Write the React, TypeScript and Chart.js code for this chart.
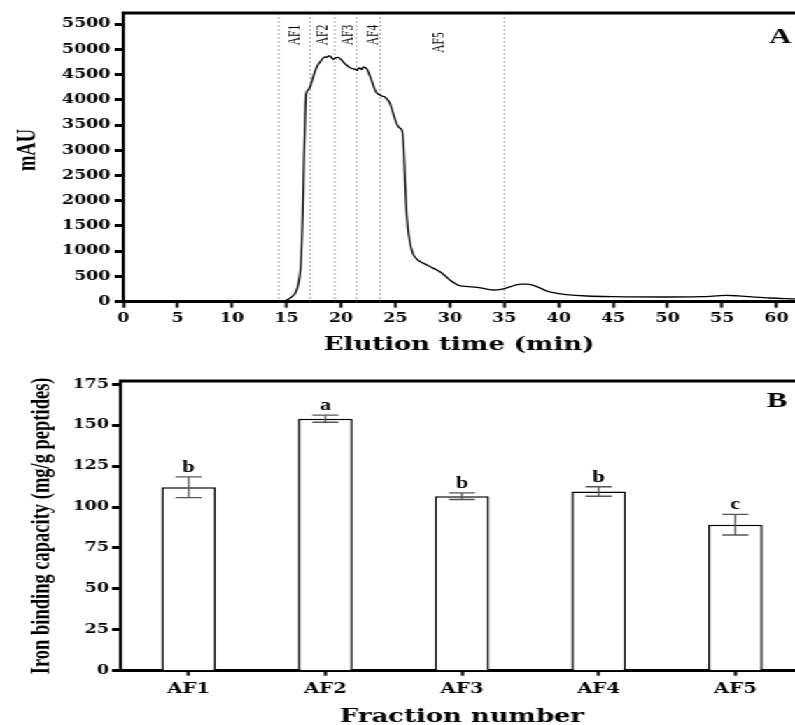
import React, { useEffect, useRef } from "react";
import { Chart, registerables } from "chart.js";
Chart.register(...registerables);

// ---- data ----
const elutionTimes = [
  0, 5, 10, 14.0, 14.5, 15.0, 15.3, 15.6, 15.8, 16.1, 16.3, 16.4, 16.5, 16.6, 16.7, 16.8,
  17.0, 17.17, 17.4, 17.6, 17.85, 18.1, 18.3, 18.5, 18.7, 18.85, 19.0, 19.15, 19.3, 19.5,
  19.75, 20.0, 20.2, 20.45, 20.7, 21.0, 21.3, 21.5, 21.6, 21.75, 21.9, 22.05, 22.2, 22.35,
  22.5, 22.8, 23.1, 23.3, 23.6, 23.8, 24.0, 24.25, 24.5, 24.8, 25.1, 25.4, 25.6, 25.74,
  25.9, 26.05, 26.3, 26.6, 27.0, 27.3, 27.8, 28.2, 28.7, 29.1, 29.6, 30.0, 30.5, 30.9,
  31.7, 32.5, 33.3, 34.0, 34.6, 35.1, 35.6, 36.1, 36.6, 37.05, 37.6, 38.3, 39.0, 39.5,
  40.0, 40.7, 42.6, 45.0, 50.0, 53.0, 54.5, 55.4, 56.5, 57.5, 59.4, 60.9, 61.7,
];
const absorbanceMAU = [
  10, 10, 10, 12, 15, 30, 67, 120, 166, 364, 693, 1162, 1816, 2806, 3600, 4114,
  4200, 4258, 4420, 4556, 4680, 4753, 4810, 4852, 4840, 4870, 4866, 4830, 4800, 4830,
  4840, 4800, 4753, 4700, 4654, 4620, 4603, 4580, 4630, 4622, 4600, 4650, 4641, 4620,
  4556, 4391, 4207, 4130, 4094, 4070, 4060, 4010, 3930, 3731, 3533, 3440, 3400, 3137,
  2345, 1683, 1222, 958, 840, 792, 740, 693, 640, 594, 510, 430, 360, 317,
  300, 285, 255, 232, 240, 265, 300, 331, 348, 350, 330, 270, 205, 180,
  160, 140, 113, 100, 93, 100, 115, 126, 115, 100, 73, 60, 55,
];
const timeTicks = [0, 5, 10, 15, 20, 25, 30, 35, 40, 45, 50, 55, 60];
const mauTicks = [0, 500, 1000, 1500, 2000, 2500, 3000, 3500, 4000, 4500, 5000, 5500];
const fractionBoundaries = [14.28, 17.2, 19.42, 21.43, 23.62, 35.0];
const fractionNames = ["AF1", "AF2", "AF3", "AF4", "AF5"];
const fractionLabelTimes = [15.85, 18.4, 20.65, 22.95, 29.0];

const ironBinding = [112.1, 154.0, 106.6, 109.5, 89.2];
const ironBindingSd = [6.3, 2.2, 2.0, 2.9, 6.3];
const significanceLetters = ["b", "a", "b", "b", "c"];
const bindingTicks = [0, 25, 50, 75, 100, 125, 150, 175];

// ---- layout (internal canvas px; the whole drawing is stretched horizontally) ----
const K = 795 / 568;
const SERIF_WIDE = "'DejaVu Serif', serif";
const SERIF = "'Liberation Serif', 'Times New Roman', serif";

const tickFont = { family: SERIF_WIDE, weight: "bold" as const, size: 12.5 };
const plainNumber = (v: any) => String(v);
const fixedTicks = (values: number[]) => (s: any) => {
  s.ticks = values.map((v) => ({ value: v }));
};

const chromPlugin = {
  id: "chromDecor",
  beforeDatasetsDraw(chart: any) {
    const { ctx, chartArea, scales } = chart;
    ctx.save();
    ctx.strokeStyle = "#8c8c8c";
    ctx.lineWidth = 0.8;
    ctx.setLineDash([2, 2]);
    for (const t of fractionBoundaries) {
      const x = scales.x.getPixelForValue(t);
      ctx.beginPath();
      ctx.moveTo(x, chartArea.top);
      ctx.lineTo(x, chartArea.bottom);
      ctx.stroke();
    }
    ctx.restore();
  },
  afterDraw(chart: any) {
    const { ctx, chartArea, scales } = chart;
    ctx.save();
    ctx.fillStyle = "#000";
    ctx.fillRect(chartArea.left - 1.1, chartArea.top - 1.5, chartArea.right - chartArea.left + 1.1, 3);
    // fraction labels
    ctx.font = `11.5px ${SERIF}`;
    ctx.textAlign = "center";
    ctx.textBaseline = "middle";
    fractionNames.forEach((name, i) => {
      const x = scales.x.getPixelForValue(fractionLabelTimes[i]);
      const y = i === 4 ? 42.5 : 35;
      ctx.save();
      ctx.translate(x, y);
      ctx.rotate(-Math.PI / 2);
      ctx.fillText(name, 0, 0);
      ctx.restore();
    });
    // panel letter
    ctx.font = `bold 22px ${SERIF}`;
    ctx.textBaseline = "alphabetic";
    ctx.fillText("A", 557.5, 43);
    // axis titles
    ctx.font = `bold 18.5px ${SERIF_WIDE}`;
    ctx.fillText("Elution time (min)", (chartArea.left + chartArea.right) / 2, 350);
    ctx.save();
    ctx.translate(20, 150);
    ctx.rotate(-Math.PI / 2);
    ctx.font = `bold 18.5px ${SERIF}`;
    ctx.textBaseline = "middle";
    ctx.fillText("mAU", 0, 0);
    ctx.restore();
    ctx.restore();
  },
};

const barPlugin = {
  id: "barDecor",
  afterDatasetsDraw(chart: any) {
    const { ctx, chartArea, scales } = chart;
    const meta = chart.getDatasetMeta(0);
    ctx.save();
    ctx.fillStyle = "#000";
    ctx.fillRect(chartArea.left - 1.1, chartArea.top - 1.5, chartArea.right - chartArea.left + 1.1, 3);
    ctx.strokeStyle = "#555";
    ctx.lineWidth = 1.3;
    meta.data.forEach((bar: any, i: number) => {
      const x = bar.x;
      const hi = scales.y.getPixelForValue(ironBinding[i] + ironBindingSd[i]);
      const lo = scales.y.getPixelForValue(ironBinding[i] - ironBindingSd[i]);
      ctx.beginPath();
      ctx.moveTo(x, hi);
      ctx.lineTo(x, lo);
      ctx.moveTo(x - 9.3, hi);
      ctx.lineTo(x + 9.3, hi);
      ctx.moveTo(x - 9.3, lo);
      ctx.lineTo(x + 9.3, lo);
      ctx.stroke();
      ctx.font = `bold 16px ${SERIF}`;
      ctx.textAlign = "center";
      ctx.textBaseline = "alphabetic";
      ctx.fillText(significanceLetters[i], x, hi - 5);
    });
    ctx.font = `bold 22px ${SERIF}`;
    ctx.textAlign = "center";
    ctx.fillText("B", 555, 47);
    ctx.font = `bold 18.5px ${SERIF_WIDE}`;
    ctx.fillText("Fraction number", (chartArea.left + chartArea.right) / 2, 361.5);
    ctx.save();
    ctx.translate(30.4, (chartArea.top + chartArea.bottom) / 2);
    ctx.rotate(-Math.PI / 2);
    ctx.font = `bold 18.5px ${SERIF}`;
    ctx.textBaseline = "middle";
    ctx.fillText("Iron binding capacity (mg/g peptides)", 0, 0);
    ctx.restore();
    ctx.restore();
  },
};

export default function App() {
  const topRef = useRef<HTMLCanvasElement>(null);
  const botRef = useRef<HTMLCanvasElement>(null);

  useEffect(() => {
    const points = elutionTimes.map((t, i) => ({ x: t, y: absorbanceMAU[i] }));
    const c1 = new Chart(topRef.current!, {
      type: "line",
      data: {
        datasets: [
          {
            data: points,
            borderColor: "#000",
            borderWidth: 1.3,
            pointRadius: 0,
            fill: false,
            cubicInterpolationMode: "monotone",
          },
        ],
      },
      options: {
        animation: false,
        responsive: false,
        devicePixelRatio: 1,
        layout: { padding: { top: 13, left: 0, right: 0, bottom: 0 } },
        plugins: { legend: { display: false }, tooltip: { enabled: false } },
        scales: {
          x: {
            type: "linear",
            min: 0,
            max: 61.7,
            afterBuildTicks: fixedTicks(timeTicks),
            afterFit: (s: any) => {
              s.height = 58.3;
              s.paddingLeft = 0;
              s.paddingRight = 0;
            },
            ticks: {
              color: "#000",
              font: tickFont,
              padding: 4,
              maxRotation: 0,
              autoSkip: false,
              callback: plainNumber,
            },
            grid: { drawOnChartArea: false, drawTicks: true, tickLength: 6, tickWidth: 2, tickColor: "#000" },
            border: { display: true, color: "#000", width: 3 },
          },
          y: {
            min: 0,
            max: 5720,
            afterBuildTicks: fixedTicks(mauTicks),
            afterFit: (s: any) => {
              s.width = 88;
              s.paddingTop = 0;
              s.paddingBottom = 0;
            },
            ticks: {
              autoSkip: false,
              color: "#000",
              font: tickFont,
              padding: 3,
              callback: plainNumber,
            },
            grid: { drawOnChartArea: false, drawTicks: true, tickLength: 6, tickWidth: 3, tickColor: "#000" },
            border: { display: true, color: "#000", width: 2.2 },
          },
        },
      },
      plugins: [chromPlugin],
    } as any);

    const c2 = new Chart(botRef.current!, {
      type: "bar",
      data: {
        labels: fractionNames,
        datasets: [
          {
            data: ironBinding,
            backgroundColor: "#fff",
            borderColor: "#000",
            borderWidth: 1.5,
            barPercentage: 0.397,
            categoryPercentage: 1,
          },
        ],
      },
      options: {
        animation: false,
        responsive: false,
        devicePixelRatio: 1,
        layout: { padding: { top: 21, left: 0, right: 0.8, bottom: 0 } },
        plugins: { legend: { display: false }, tooltip: { enabled: false } },
        scales: {
          x: {
            offset: true,
            afterFit: (s: any) => {
              s.height = 54.3;
              s.paddingLeft = 0;
              s.paddingRight = 0;
            },
            ticks: {
              color: "#000",
              font: { family: SERIF_WIDE, weight: "bold", size: 14 },
              padding: 5,
              maxRotation: 0,
            },
            grid: {
              offset: false,
              drawOnChartArea: false,
              drawTicks: true,
              tickLength: 5,
              tickWidth: 2.2,
              tickColor: "#000",
            },
            border: { display: true, color: "#000", width: 3 },
          },
          y: {
            min: 0,
            max: 177,
            afterBuildTicks: fixedTicks(bindingTicks),
            afterFit: (s: any) => {
              s.width = 86;
              s.paddingTop = 0;
              s.paddingBottom = 0;
            },
            ticks: {
              autoSkip: false,
              color: "#000",
              font: tickFont,
              padding: 2,
              callback: plainNumber,
            },
            grid: { drawOnChartArea: false, drawTicks: true, tickLength: 6, tickWidth: 3, tickColor: "#000" },
            border: { display: true, color: "#000", width: 2.2 },
          },
        },
      },
      plugins: [barPlugin],
    } as any);

    return () => {
      c1.destroy();
      c2.destroy();
    };
  }, []);

  return (
    <div
      style={{
        position: "absolute",
        left: 0,
        top: 0,
        width: 795,
        height: 725,
        overflow: "hidden",
        background: "#fff",
      }}
    >
      <div style={{ width: 575, transform: `scaleX(${K})`, transformOrigin: "0 0" }}>
        <canvas ref={topRef} width={568} height={360} style={{ display: "block" }} />
        <canvas ref={botRef} width={575} height={365} style={{ display: "block" }} />
      </div>
    </div>
  );
}
